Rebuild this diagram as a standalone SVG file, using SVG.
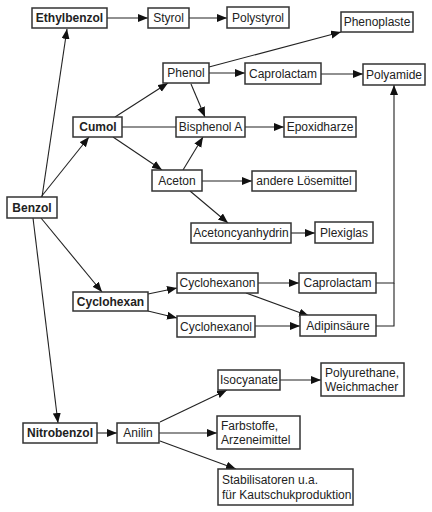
<svg xmlns="http://www.w3.org/2000/svg" width="432" height="512" viewBox="0 0 432 512">
<style>
.b{fill:#fff;stroke:#333;stroke-width:1.5}
.t{font-family:"Liberation Sans",Arial,sans-serif;font-size:12px;fill:#222}
.bold{font-weight:bold}
.c line,.c polyline{stroke:#222;stroke-width:1.1;fill:none}
.a{marker-end:url(#arr)}
</style>
<defs>
<marker id="arr" markerUnits="userSpaceOnUse" markerWidth="11" markerHeight="9" refX="10" refY="4" orient="auto">
<path d="M0,0 L10,4 L0,8 z" fill="#111"/>
</marker>
</defs>
<rect width="432" height="512" fill="#fff"/>
<g class="c">
<line class="a" x1="42" y1="197" x2="67" y2="29"/>
<line class="a" x1="41" y1="197" x2="89" y2="137"/>
<line class="a" x1="41" y1="218" x2="102" y2="292"/>
<line class="a" x1="33" y1="218" x2="58" y2="423"/>
<line class="a" x1="107" y1="18" x2="148" y2="18"/>
<line class="a" x1="189" y1="18" x2="227" y2="18"/>
<line class="a" x1="209" y1="67" x2="341" y2="32"/>
<line class="a" x1="209" y1="73" x2="245" y2="73"/>
<line class="a" x1="321" y1="74" x2="363" y2="74"/>
<line class="a" x1="191" y1="84" x2="205" y2="117"/>
<line class="a" x1="115" y1="117" x2="168" y2="83"/>
<line x1="122" y1="127" x2="176" y2="127"/>
<line class="a" x1="245" y1="127" x2="284" y2="127"/>
<line class="a" x1="113" y1="137" x2="162" y2="170"/>
<line class="a" x1="183" y1="170" x2="203" y2="137"/>
<line class="a" x1="202" y1="181" x2="252" y2="181"/>
<line class="a" x1="190" y1="191" x2="228" y2="223"/>
<line class="a" x1="291" y1="233" x2="315" y2="233"/>
<line class="a" x1="148" y1="294" x2="177" y2="288"/>
<line class="a" x1="148" y1="311" x2="177" y2="318"/>
<line class="a" x1="258" y1="283" x2="299" y2="283"/>
<line class="a" x1="246" y1="293" x2="309" y2="316"/>
<line class="a" x1="255" y1="326" x2="300" y2="326"/>
<polyline class="a" points="376,283 394,283 394,85"/>
<polyline points="376,326 394,326 394,283"/>
<line class="a" x1="97" y1="433" x2="117" y2="433"/>
<line class="a" x1="160" y1="422" x2="227" y2="390"/>
<line class="a" x1="159" y1="433" x2="217" y2="433"/>
<line class="a" x1="160" y1="441" x2="236" y2="469"/>
<line class="a" x1="280" y1="380" x2="321" y2="380"/>
</g>
<g id="ethylbenzol"><rect class="b" x="32" y="8" width="75" height="20"/><text class="t bold" x="69.5" y="22.3" text-anchor="middle">Ethylbenzol</text></g>
<g id="styrol"><rect class="b" x="148" y="8" width="41" height="20"/><text class="t" x="168.5" y="22.3" text-anchor="middle">Styrol</text></g>
<g id="polystyrol"><rect class="b" x="227" y="7" width="62" height="21"/><text class="t" x="258" y="21.8" text-anchor="middle">Polystyrol</text></g>
<g id="phenoplaste"><rect class="b" x="341" y="12" width="72" height="20"/><text class="t" x="377" y="26.3" text-anchor="middle">Phenoplaste</text></g>
<g id="phenol"><rect class="b" x="163" y="63" width="46" height="20"/><text class="t" x="186" y="77.3" text-anchor="middle">Phenol</text></g>
<g id="caprolactam1"><rect class="b" x="245" y="63" width="76" height="21"/><text class="t" x="283" y="77.8" text-anchor="middle">Caprolactam</text></g>
<g id="polyamide"><rect class="b" x="363" y="64" width="62" height="21"/><text class="t" x="394" y="78.8" text-anchor="middle">Polyamide</text></g>
<g id="cumol"><rect class="b" x="73" y="117" width="49" height="20"/><text class="t bold" x="98" y="131.3" text-anchor="middle">Cumol</text></g>
<g id="bisphenol"><rect class="b" x="176" y="117" width="69" height="20"/><text class="t" x="210.5" y="131.3" text-anchor="middle">Bisphenol A</text></g>
<g id="epoxidharze"><rect class="b" x="284" y="117" width="72" height="20"/><text class="t" x="320" y="131.3" text-anchor="middle">Epoxidharze</text></g>
<g id="aceton"><rect class="b" x="152" y="170" width="50" height="21"/><text class="t" x="177" y="184.8" text-anchor="middle">Aceton</text></g>
<g id="loesemittel"><rect class="b" x="252" y="171" width="104" height="20"/><text class="t" x="304" y="185.3" text-anchor="middle">andere Lösemittel</text></g>
<g id="benzol"><rect class="b" x="7" y="197" width="50" height="21"/><text class="t bold" x="32" y="211.8" text-anchor="middle">Benzol</text></g>
<g id="acetoncyanhydrin"><rect class="b" x="191" y="223" width="100" height="20"/><text class="t" x="241" y="237.3" text-anchor="middle">Acetoncyanhydrin</text></g>
<g id="plexiglas"><rect class="b" x="315" y="222" width="58" height="21"/><text class="t" x="344" y="236.8" text-anchor="middle">Plexiglas</text></g>
<g id="cyclohexanon"><rect class="b" x="177" y="273" width="81" height="20"/><text class="t" x="217.5" y="287.3" text-anchor="middle">Cyclohexanon</text></g>
<g id="caprolactam2"><rect class="b" x="299" y="273" width="77" height="20"/><text class="t" x="337.5" y="287.3" text-anchor="middle">Caprolactam</text></g>
<g id="cyclohexan"><rect class="b" x="73" y="292" width="75" height="19"/><text class="t bold" x="110.5" y="305.8" text-anchor="middle">Cyclohexan</text></g>
<g id="cyclohexanol"><rect class="b" x="177" y="316" width="78" height="21"/><text class="t" x="216" y="330.8" text-anchor="middle">Cyclohexanol</text></g>
<g id="adipinsaeure"><rect class="b" x="300" y="315" width="76" height="21"/><text class="t" x="338" y="329.8" text-anchor="middle">Adipinsäure</text></g>
<g id="isocyanate"><rect class="b" x="218" y="370" width="62" height="20"/><text class="t" x="249" y="384.3" text-anchor="middle">Isocyanate</text></g>
<g id="polyurethane"><rect class="b" x="321" y="363" width="83" height="33"/><text class="t" x="325" y="377">Polyurethane,</text><text class="t" x="325" y="391">Weichmacher</text></g>
<g id="farbstoffe"><rect class="b" x="217" y="416" width="83" height="33"/><text class="t" x="221" y="430">Farbstoffe,</text><text class="t" x="221" y="444">Arzeneimittel</text></g>
<g id="nitrobenzol"><rect class="b" x="23" y="423" width="74" height="20"/><text class="t bold" x="60" y="437.3" text-anchor="middle">Nitrobenzol</text></g>
<g id="anilin"><rect class="b" x="117" y="423" width="42" height="20"/><text class="t" x="138" y="437.3" text-anchor="middle">Anilin</text></g>
<g id="stabilisatoren"><rect class="b" x="218" y="469" width="135" height="36"/><text class="t" x="222" y="484">Stabilisatoren u.a.</text><text class="t" x="222" y="499">für Kautschukproduktion</text></g>
</svg>
